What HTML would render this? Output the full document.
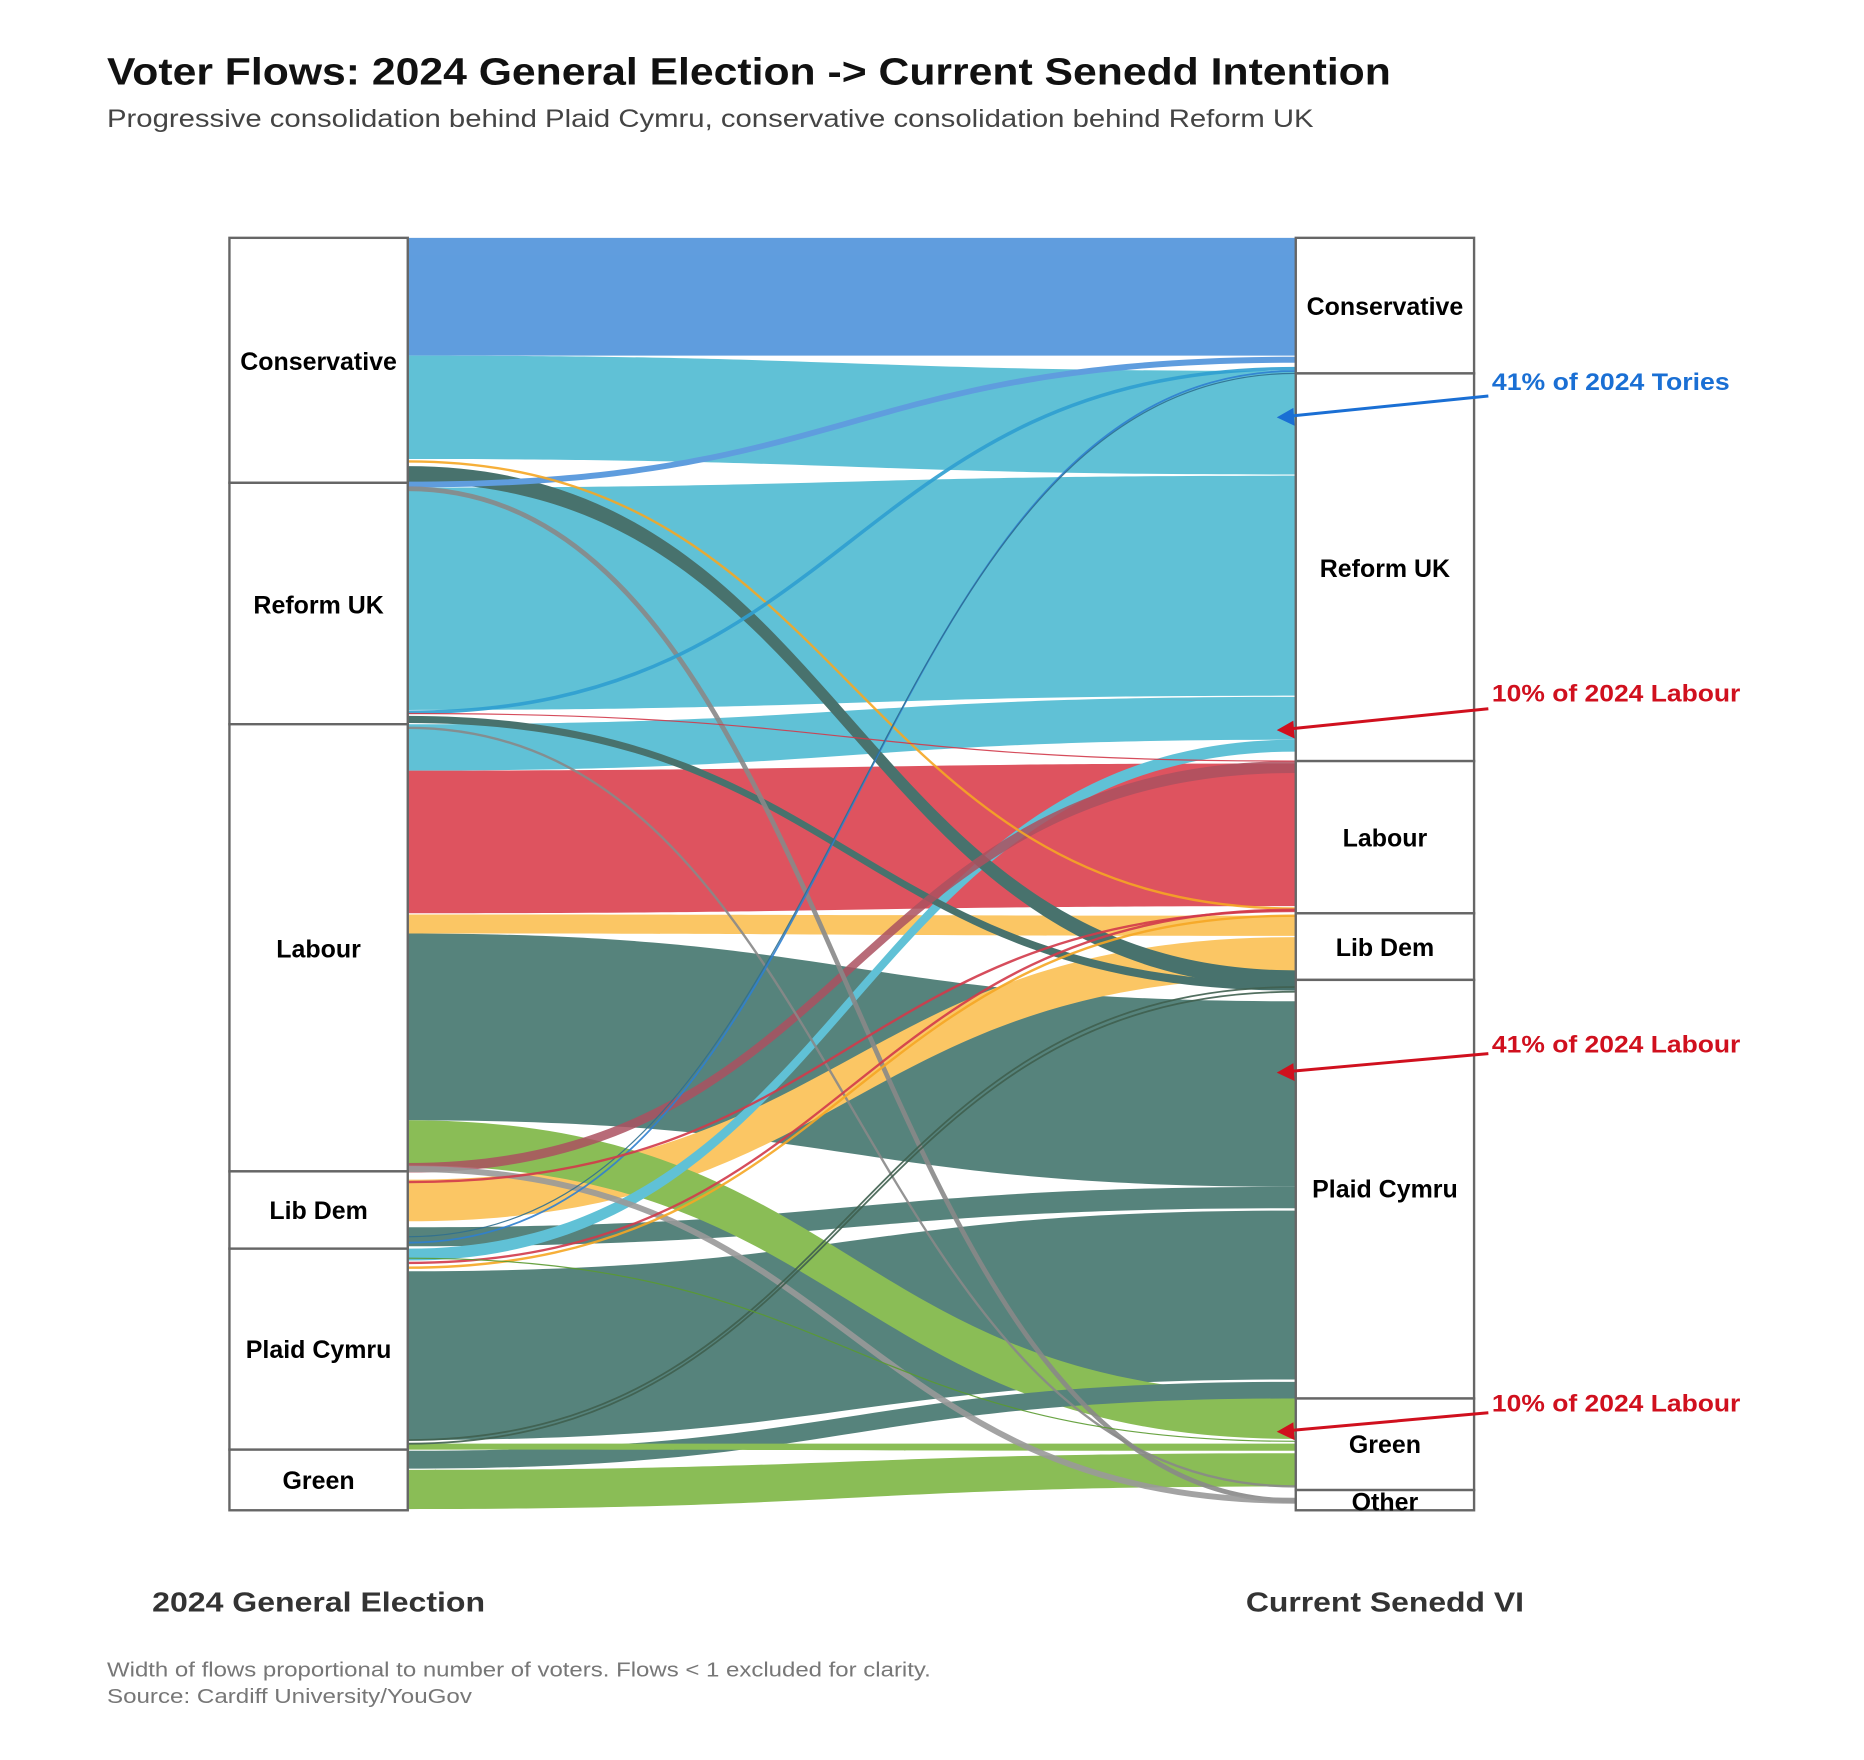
<!DOCTYPE html>
<html><head><meta charset="utf-8"><style>
html,body{margin:0;padding:0;background:#fff;}
svg{display:block;}
text{font-family:"Liberation Sans",Arial,sans-serif;}
</style></head><body>
<svg width="1864" height="1760" viewBox="0 0 1568 1480" preserveAspectRatio="none" xmlns="http://www.w3.org/2000/svg">
<rect width="1568" height="1480" fill="#fff"/>
<text x="90" y="71" font-size="32" font-weight="bold" fill="#111" textLength="1080" lengthAdjust="spacingAndGlyphs">Voter Flows: 2024 General Election -&gt; Current Senedd Intention</text>
<text x="90" y="107" font-size="21" fill="#444" textLength="1015" lengthAdjust="spacingAndGlyphs">Progressive consolidation behind Plaid Cymru, conservative consolidation behind Reform UK</text>

<g opacity="0.88">
<path fill="#4a90da" d="M343 200 C716 200 716 200 1090 200 L1090 299 C716 299 716 299 343 299 Z"/>
<path fill="#4bb9d1" d="M343 299 C716 299 716 312 1090 312 L1090 399 C716 399 716 386 343 386 Z"/>
<path fill="#4bb9d1" d="M343 410 C716 410 716 400 1090 400 L1090 585 C716 585 716 597 343 597 Z"/>
<path fill="#4bb9d1" d="M343 609 C716 609 716 586 1090 586 L1090 622 C716 622 716 648 343 648 Z"/>
<path fill="#da3c4a" d="M343 648 C716 648 716 642 1090 642 L1090 762 C716 762 716 768 343 768 Z"/>
<path fill="#fbbf4f" d="M343 769 C716 769 716 770 1090 770 L1090 787 C716 787 716 785 343 785 Z"/>
<path fill="#3f726b" d="M343 785 C716 785 716 842 1090 842 L1090 998 C716 998 716 942 343 942 Z"/>
<path fill="#fbbf4f" d="M343 992 C716 992 716 788 1090 788 L1090 822 C716 822 716 1027 343 1027 Z"/>
<path fill="#3f726b" d="M343 1032 C716 1032 716 998 1090 998 L1090 1016 C716 1016 716 1048 343 1048 Z"/>
<path fill="#3f726b" d="M343 1069 C716 1069 716 1018 1090 1018 L1090 1160 C716 1160 716 1211 343 1211 Z"/>
<path fill="#7ab43f" d="M343 942 C716 942 716 1172 1090 1172 L1090 1210 C716 1210 716 980 343 980 Z"/>
<path fill="#4bb9d1" d="M343 1050 C716 1050 716 622 1090 622 L1090 632 C716 632 716 1060 343 1060 Z"/>
<path fill="#3f726b" d="M343 1220 C716 1220 716 1162 1090 1162 L1090 1176 C716 1176 716 1235 343 1235 Z"/>
<path fill="#7ab43f" d="M343 1214 C716 1214 716 1214 1090 1214 L1090 1220 C716 1220 716 1219 343 1219 Z"/>
<path fill="#7ab43f" d="M343 1236 C716 1236 716 1222 1090 1222 L1090 1250 C716 1250 716 1269 343 1269 Z"/>
<path fill="#2f5f59" d="M343 392 C716 392 716 816 1090 816 L1090 830 C716 830 716 406 343 406 Z"/>
<path fill="#2f5f59" d="M343 602 C716 602 716 826 1090 826 L1090 833 C716 833 716 608 343 608 Z"/>
<path fill="#4a90da" d="M343 405 C716 405 716 300 1090 300 L1090 305 C716 305 716 410 343 410 Z"/>
<path fill="#a03a4a" d="M343 978 C716 978 716 640 1090 640 L1090 650 C716 650 716 986 343 986 Z" opacity="0.85"/>
</g>
<g fill="none" stroke-opacity="0.9">
<path stroke="#f5a623" stroke-width="2" d="M343 388 C716 388 716 764 1090 764"/>
<path stroke="#888" stroke-width="4" d="M343 411 C716 411 716 1262 1090 1262"/>
<path stroke="#888" stroke-width="2" d="M343 612 C716 612 716 1250 1090 1250"/>
<path stroke="#999" stroke-width="5" d="M343 983 C716 983 716 1262 1090 1262"/>
<path stroke="#2f9fd0" stroke-width="3" d="M343 599 C716 599 716 310 1090 310"/>
<path stroke="#d23a4a" stroke-width="1" d="M343 600 C716 600 716 640 1090 640"/>
<path stroke="#2f7fd0" stroke-width="1.5" d="M343 1045 C716 1045 716 312 1090 312"/>
<path stroke="#2f6f8f" stroke-width="1" d="M343 1040 C716 1040 716 314 1090 314"/>
<path stroke="#d23a4a" stroke-width="2" d="M343 994 C716 994 716 766 1090 766"/>
<path stroke="#d23a4a" stroke-width="2" d="M343 1062 C716 1062 716 765 1090 765"/>
<path stroke="#f5a623" stroke-width="2" d="M343 1066 C716 1066 716 770 1090 770"/>
<path stroke="#3f5f4f" stroke-width="1.5" d="M343 1211 C716 1211 716 830 1090 830"/>
<path stroke="#3f5f4f" stroke-width="1.5" d="M343 1214 C716 1214 716 834 1090 834"/>
<path stroke="#5a9a30" stroke-width="1" d="M343 1058 C716 1058 716 1212 1090 1212"/>
</g>
<g fill="#fff" stroke="#666" stroke-width="2">
<rect x="193" y="200" width="150" height="206"/>
<rect x="193" y="406" width="150" height="203"/>
<rect x="193" y="609" width="150" height="376"/>
<rect x="193" y="985" width="150" height="65"/>
<rect x="193" y="1050" width="150" height="169"/>
<rect x="193" y="1219" width="150" height="51"/>
<rect x="1090" y="200" width="150" height="114"/>
<rect x="1090" y="314" width="150" height="326"/>
<rect x="1090" y="640" width="150" height="128"/>
<rect x="1090" y="768" width="150" height="56"/>
<rect x="1090" y="824" width="150" height="352"/>
<rect x="1090" y="1176" width="150" height="77"/>
<rect x="1090" y="1253" width="150" height="17"/>
</g>
<g font-size="21" font-weight="bold" fill="#000" text-anchor="middle">
<text x="268" y="311">Conservative</text>
<text x="268" y="516">Reform UK</text>
<text x="268" y="805">Labour</text>
<text x="268" y="1025">Lib Dem</text>
<text x="268" y="1142">Plaid Cymru</text>
<text x="268" y="1252">Green</text>
<text x="1165" y="265">Conservative</text>
<text x="1165" y="485">Reform UK</text>
<text x="1165" y="712">Labour</text>
<text x="1165" y="804">Lib Dem</text>
<text x="1165" y="1007">Plaid Cymru</text>
<text x="1165" y="1222">Green</text>
<text x="1165" y="1270">Other</text>
</g>
<g font-size="20" font-weight="bold">
<text x="1255" y="328" fill="#1a6fd4" textLength="200" lengthAdjust="spacingAndGlyphs">41% of 2024 Tories</text>
<text x="1255" y="590" fill="#d0101e" textLength="209" lengthAdjust="spacingAndGlyphs">10% of 2024 Labour</text>
<text x="1255" y="885" fill="#d0101e" textLength="209" lengthAdjust="spacingAndGlyphs">41% of 2024 Labour</text>
<text x="1255" y="1187" fill="#d0101e" textLength="209" lengthAdjust="spacingAndGlyphs">10% of 2024 Labour</text>
</g>
<g stroke-width="2.5">
<line x1="1252" y1="333" x2="1084" y2="350" stroke="#1a6fd4"/>
<polygon points="1074,351 1088,343 1089,358" fill="#1a6fd4"/>
<line x1="1252" y1="596" x2="1084" y2="613" stroke="#d0101e"/>
<polygon points="1074,614 1088,606 1089,621" fill="#d0101e"/>
<line x1="1252" y1="886" x2="1084" y2="901" stroke="#d0101e"/>
<polygon points="1074,902 1088,894 1089,909" fill="#d0101e"/>
<line x1="1252" y1="1188" x2="1084" y2="1203" stroke="#d0101e"/>
<polygon points="1074,1204 1088,1196 1089,1211" fill="#d0101e"/>
</g>
<text x="128" y="1355" font-size="23" font-weight="bold" fill="#333" textLength="280" lengthAdjust="spacingAndGlyphs">2024 General Election</text>
<text x="1048" y="1355" font-size="23" font-weight="bold" fill="#333" textLength="234" lengthAdjust="spacingAndGlyphs">Current Senedd VI</text>
<text x="90" y="1410" font-size="17" fill="#777" textLength="693" lengthAdjust="spacingAndGlyphs">Width of flows proportional to number of voters. Flows &lt; 1 excluded for clarity.</text>
<text x="90" y="1432" font-size="17" fill="#777" textLength="307" lengthAdjust="spacingAndGlyphs">Source: Cardiff University/YouGov</text>
</svg>
</body></html>
